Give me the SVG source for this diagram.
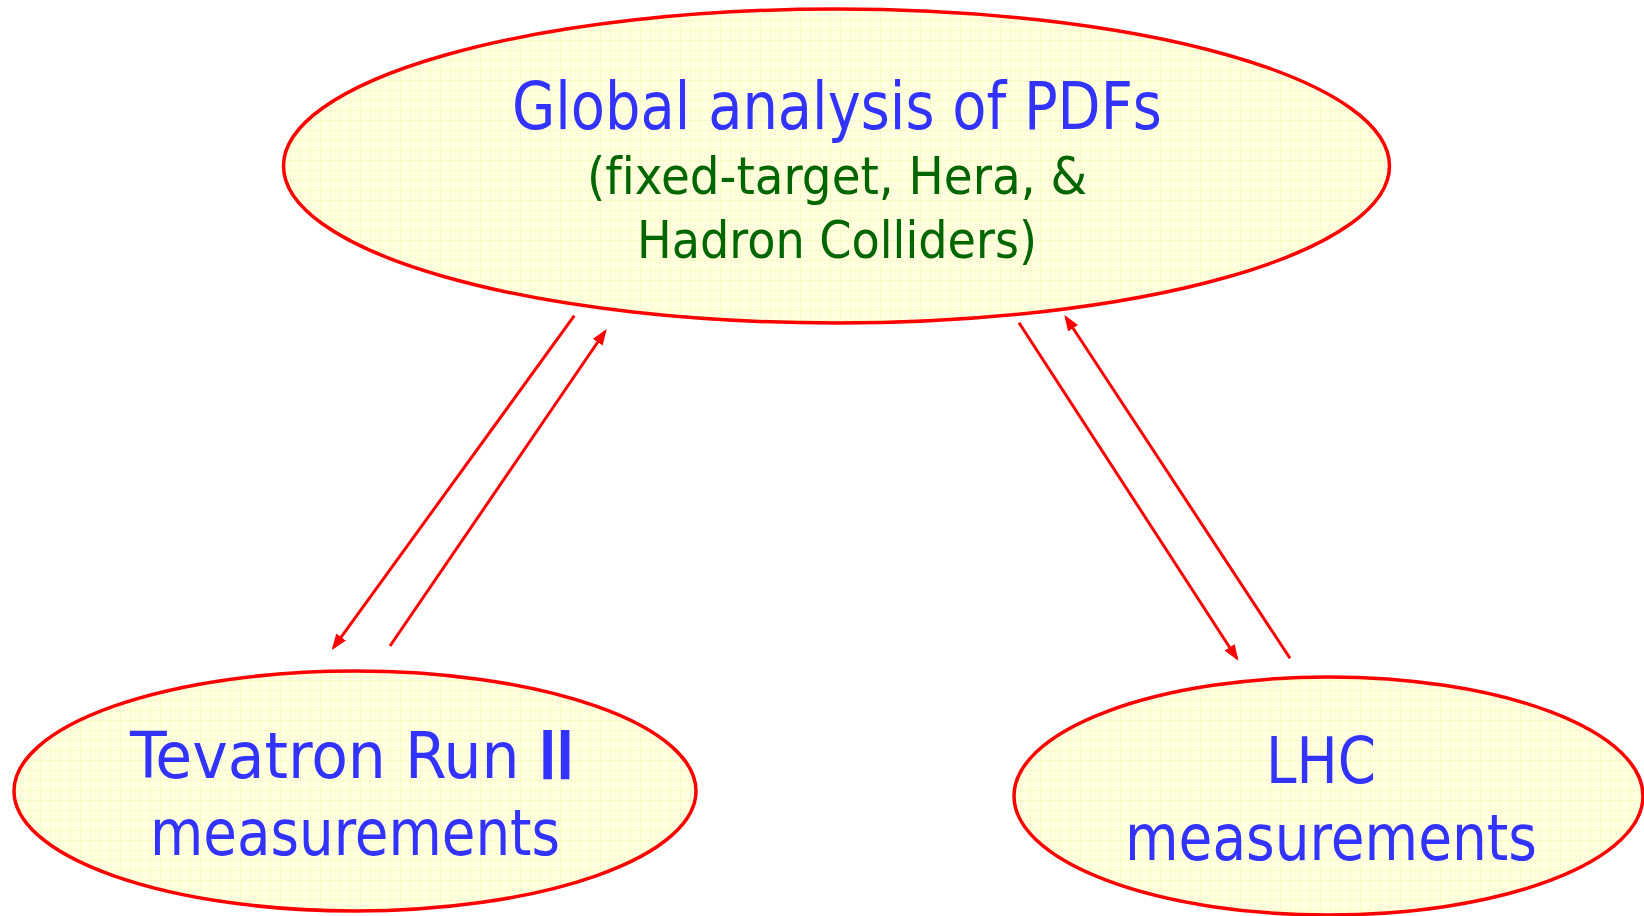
<svg xmlns="http://www.w3.org/2000/svg" width="1644" height="916" viewBox="0 0 1644 916">
<style>
.node ellipse{fill:url(#grid);stroke:#ff0000;stroke-width:3.5}
.t{font-family:"DejaVu Sans Condensed","DejaVu Sans",sans-serif;text-anchor:middle;font-variant-ligatures:none}
.blue{fill:#3333ff}
.green{fill:#006600}
.conn line{stroke:#ff0000;stroke-width:3;fill:none;marker-end:url(#ah)}
</style>
<defs>
<pattern id="grid" patternUnits="userSpaceOnUse" width="10" height="10">
<rect width="10" height="10" fill="#ffffe0"/>
<path d="M0 0.5H10M0.5 0V10" stroke="#f9f9c6" stroke-width="1"/>
</pattern>
<marker id="ah" markerUnits="userSpaceOnUse" markerWidth="18" markerHeight="14" refX="13" refY="6" orient="auto">
<path d="M0 0L16 6L0 12Z" fill="#ff0000"/>
</marker>
</defs>
<rect width="1644" height="916" fill="#ffffff"/>
<g id="global">
<g class="node">
<ellipse cx="836.5" cy="166" rx="553" ry="157"/>
</g>
<text class="t blue" x="837" y="129" font-size="65" textLength="650" lengthAdjust="spacingAndGlyphs">Global analysis of PDFs</text>
<text class="t green" x="837" y="194" font-size="51" textLength="500" lengthAdjust="spacingAndGlyphs">(fixed-target, Hera, &amp;</text>
<text class="t green" x="837" y="258" font-size="51" textLength="400" lengthAdjust="spacingAndGlyphs">Hadron Colliders)</text>
</g>
<g id="tevatron">
<g class="node">
<ellipse cx="355" cy="791" rx="341" ry="120"/>
</g>
<text class="t blue" x="352" y="778" font-size="64" textLength="444" lengthAdjust="spacingAndGlyphs">Tevatron Run <tspan stroke="#3333ff" stroke-width="2.5">II</tspan></text>
<text class="t blue" x="355" y="855" font-size="64" textLength="410" lengthAdjust="spacingAndGlyphs">measurements</text>
</g>
<g id="lhc">
<g class="node">
<ellipse cx="1328.5" cy="796" rx="314.5" ry="119"/>
</g>
<text class="t blue" x="1321" y="783" font-size="64" textLength="110" lengthAdjust="spacingAndGlyphs">LHC</text>
<text class="t blue" x="1331" y="860" font-size="64" textLength="412" lengthAdjust="spacingAndGlyphs">measurements</text>
</g>
<g id="connectors" class="conn">
<line x1="574.3" y1="315.7" x2="333.5" y2="647.6"/>
<line x1="390" y1="646" x2="605" y2="331.5"/>
<line x1="1019" y1="322.7" x2="1236.7" y2="658.2"/>
<line x1="1290" y1="658.3" x2="1066" y2="317.5"/>
</g>
</svg>
